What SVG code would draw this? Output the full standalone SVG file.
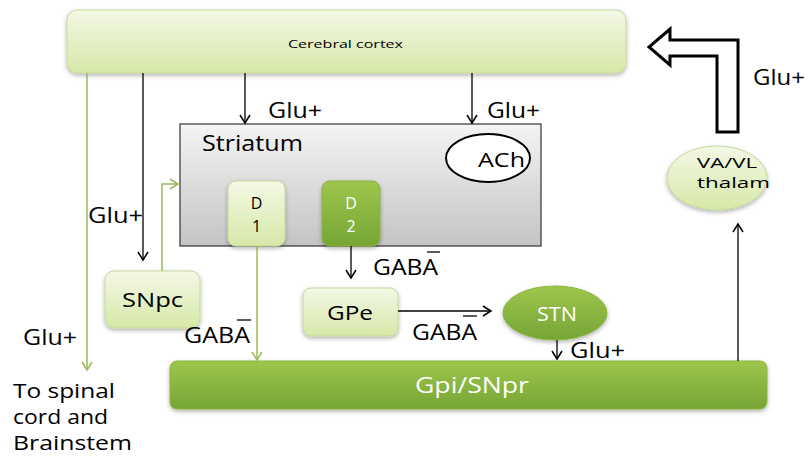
<svg xmlns="http://www.w3.org/2000/svg" width="806" height="456" viewBox="0 0 806 456">
<defs>
<linearGradient id="gLight" x1="0" y1="0" x2="0" y2="1"><stop offset="0" stop-color="#f4f8e6"/><stop offset="1" stop-color="#d6e8a8"/></linearGradient>
<linearGradient id="gDark" x1="0" y1="0" x2="0" y2="1"><stop offset="0" stop-color="#9dc64c"/><stop offset="1" stop-color="#76a535"/></linearGradient>
<linearGradient id="gGray" x1="0" y1="0" x2="0" y2="1"><stop offset="0" stop-color="#f4f4f4"/><stop offset="1" stop-color="#c4c4c4"/></linearGradient>
<filter id="sh" x="-10%" y="-10%" width="120%" height="130%"><feDropShadow dx="0" dy="2" stdDeviation="2" flood-color="#000" flood-opacity="0.3"/></filter>
<marker id="ab" markerWidth="12" markerHeight="12" refX="10" refY="6" orient="auto" markerUnits="userSpaceOnUse"><path d="M2,1 L10,6 L2,11" fill="none" stroke="#000" stroke-width="1.5"/></marker>
<marker id="ag" markerWidth="12" markerHeight="12" refX="10" refY="6" orient="auto" markerUnits="userSpaceOnUse"><path d="M2,1 L10,6 L2,11" fill="none" stroke="#9bbb59" stroke-width="1.5"/></marker>
</defs>
<style>
text{font-family:"Open Sans","DejaVu Sans",sans-serif;fill:#000}
.light{fill:url(#gLight);stroke:#c5d99a;stroke-width:1;filter:url(#sh)}
.dark{fill:url(#gDark);stroke:#8ab43f;stroke-width:1;filter:url(#sh)}
.wt{fill:#fff}
.lb{font-size:21px}
.bk{stroke:#000;stroke-width:1.3;fill:none}
.gr{stroke:#9bbb59;stroke-width:1.5;fill:none}
</style>
<g id="cortex"><rect class="light" x="67" y="10" width="559" height="63" rx="10"/><text x="288" y="48" font-size="11" textLength="115" lengthAdjust="spacingAndGlyphs">Cerebral cortex</text></g>
<g id="striatum"><rect x="180" y="124" width="361" height="122" fill="url(#gGray)" stroke="#333" stroke-width="1.2"/><text x="202" y="151" class="lb" textLength="101" lengthAdjust="spacingAndGlyphs">Striatum</text></g>
<g id="ach"><ellipse cx="488" cy="158" rx="42" ry="24" fill="#fff" stroke="#000" stroke-width="2"/><text x="478" y="167" font-size="20" textLength="47" lengthAdjust="spacingAndGlyphs">ACh</text></g>
<g id="d1"><rect class="light" x="228" y="181" width="57" height="65" rx="8"/><text x="256.5" y="209" font-size="16" text-anchor="middle">D</text><text x="256.5" y="232" font-size="16" text-anchor="middle">1</text></g>
<g id="d2"><rect class="dark" x="322" y="181" width="58" height="65" rx="8"/><text x="351" y="209" font-size="16" text-anchor="middle" class="wt">D</text><text x="351" y="232" font-size="16" text-anchor="middle" class="wt">2</text></g>
<g id="snpc"><rect class="light" x="105" y="271" width="95" height="57" rx="9"/><text x="122" y="307" font-size="20" textLength="61" lengthAdjust="spacingAndGlyphs">SNpc</text></g>
<g id="gpe"><rect class="light" x="303" y="288" width="95" height="48" rx="8"/><text x="327" y="320" font-size="20" textLength="46" lengthAdjust="spacingAndGlyphs">GPe</text></g>
<g id="stn"><ellipse class="dark" cx="555" cy="313" rx="52" ry="27"/><text x="537" y="321" font-size="20" class="wt" textLength="40" lengthAdjust="spacingAndGlyphs">STN</text></g>
<g id="gpi"><rect class="dark" x="170" y="361" width="597" height="48" rx="7"/><text x="415" y="393" font-size="21" class="wt" textLength="114" lengthAdjust="spacingAndGlyphs">Gpi/SNpr</text></g>
<g id="thalamus"><ellipse class="light" cx="717" cy="178" rx="50" ry="32"/><text x="697" y="168" font-size="15" textLength="60" lengthAdjust="spacingAndGlyphs">VA/VL</text><text x="697" y="188" font-size="15" textLength="73" lengthAdjust="spacingAndGlyphs">thalam</text></g>
<g id="connectors">
<line class="gr" x1="87" y1="73" x2="87" y2="370" marker-end="url(#ag)"/>
<line class="bk" x1="143" y1="73" x2="143" y2="260" marker-end="url(#ab)"/>
<line class="bk" x1="245" y1="73" x2="245" y2="123" marker-end="url(#ab)"/>
<line class="bk" x1="472" y1="73" x2="472" y2="123" marker-end="url(#ab)"/>
<polyline class="gr" points="162,271 162,184 178,184" marker-end="url(#ag)"/>
<line class="gr" x1="257" y1="246" x2="257" y2="360" marker-end="url(#ag)"/>
<line class="bk" x1="351" y1="246" x2="351" y2="278" marker-end="url(#ab)"/>
<line class="bk" x1="398" y1="311" x2="491" y2="311" marker-end="url(#ab)"/>
<line class="bk" x1="557" y1="340" x2="557" y2="359" marker-end="url(#ab)"/>
<line class="bk" x1="738" y1="361" x2="738" y2="224" marker-end="url(#ab)"/>
<path d="M738,132 L738,40 L670,40 L670,29 L649,47 L670,65 L670,56 L717,56 L717,132 Z" fill="#fff" stroke="#000" stroke-width="3" stroke-linejoin="miter"/>
</g>
<g id="labels">
<text x="268" y="118" class="lb" textLength="54" lengthAdjust="spacingAndGlyphs">Glu+</text>
<text x="487" y="118" class="lb" textLength="53" lengthAdjust="spacingAndGlyphs">Glu+</text>
<text x="88" y="223" class="lb" textLength="55" lengthAdjust="spacingAndGlyphs">Glu+</text>
<text x="23" y="345" class="lb" textLength="54" lengthAdjust="spacingAndGlyphs">Glu+</text>
<text x="753" y="85" class="lb" textLength="52" lengthAdjust="spacingAndGlyphs">Glu+</text>
<text x="570" y="358" class="lb" textLength="55" lengthAdjust="spacingAndGlyphs">Glu+</text>
<text x="184" y="343" class="lb" textLength="66" lengthAdjust="spacingAndGlyphs">GABA</text><line x1="237" y1="320" x2="251" y2="320" stroke="#000" stroke-width="1.3"/>
<text x="373" y="275" class="lb" textLength="65" lengthAdjust="spacingAndGlyphs">GABA</text><line x1="427" y1="252" x2="440" y2="252" stroke="#000" stroke-width="1.3"/>
<text x="412" y="340" class="lb" textLength="65" lengthAdjust="spacingAndGlyphs">GABA</text><line x1="463" y1="316" x2="477" y2="316" stroke="#000" stroke-width="1.3"/>
<text x="13" y="398" font-size="20" textLength="102" lengthAdjust="spacingAndGlyphs">To spinal</text>
<text x="13" y="424" font-size="20" textLength="95" lengthAdjust="spacingAndGlyphs">cord and</text>
<text x="13" y="450" font-size="20" textLength="119" lengthAdjust="spacingAndGlyphs">Brainstem</text>
</g>
</svg>
